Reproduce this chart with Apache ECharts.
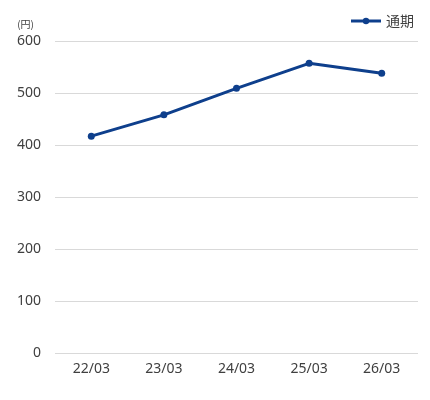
<!DOCTYPE html>
<html>
<head>
<meta charset="utf-8">
<script src="https://cdn.jsdelivr.net/npm/echarts@6/dist/echarts.min.js"></script>
<style>
html, body { margin: 0; padding: 0; background: #fff; }
#main { width: 430px; height: 400px; }
</style>
</head>
<body>
<div id="main"></div>
<script>
var categories = ['22/03', '23/03', '24/03', '25/03', '26/03'];
var seriesName = '通期';
var values = [417, 458, 509, 557, 538];

var myChart = echarts.init(document.getElementById('main'));
var option = {
    animation: false,
    textStyle: {
        fontFamily: '"Noto Sans", "Noto Sans CJK JP", sans-serif'
    },
    legend: {
        right: 11,
        top: 9,
        itemWidth: 30,
        itemHeight: 8,
        itemGap: 4,
        textStyle: {
            color: '#404040',
            fontSize: 14,
            fontFamily: '"Noto Sans CJK JP", sans-serif'
        },
        lineStyle: { width: 3 },
        data: [seriesName]
    },
    grid: {
        left: 55,
        right: 12,
        top: 41,
        bottom: 47
    },
    xAxis: {
        type: 'category',
        data: categories,
        boundaryGap: true,
        axisLine: { show: false },
        axisTick: { show: false },
        axisLabel: {
            color: '#404040',
            fontSize: 14,
            margin: 9
        }
    },
    yAxis: {
        type: 'value',
        min: 0,
        max: 600,
        interval: 100,
        name: '(円)',
        nameGap: 12,
        nameTextStyle: {
            color: '#404040',
            fontSize: 10,
            align: 'right',
            fontFamily: '"Noto Sans CJK JP", sans-serif',
            padding: [0, 21, 0, 0]
        },
        axisLine: { show: false },
        axisTick: { show: false },
        axisLabel: {
            color: '#404040',
            fontSize: 14,
            margin: 14
        },
        splitLine: {
            lineStyle: { color: '#d9d9d9', width: 1 }
        }
    },
    series: [
        {
            name: seriesName,
            type: 'line',
            data: values,
            symbol: 'circle',
            symbolSize: 7,
            color: '#0e3f8c',
            lineStyle: { width: 3, color: '#0e3f8c' },
            itemStyle: { color: '#0e3f8c' }
        }
    ]
};
myChart.setOption(option);
</script>
</body>
</html>
